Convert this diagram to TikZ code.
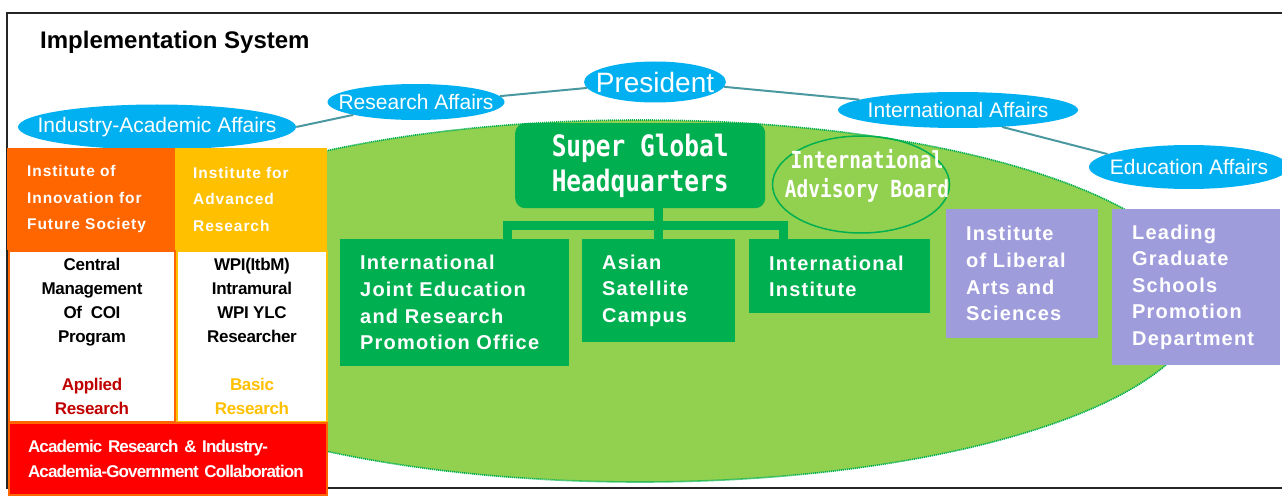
\documentclass[tikz,border=0pt]{standalone}
\usepackage{fontspec}
\setmainfont{Liberation Sans}
\newfontfamily\wideB[LetterSpace=6]{Liberation Sans}
\newfontfamily\tightA[LetterSpace=-2]{Liberation Sans}
\newfontfamily\tightB[LetterSpace=-5]{Liberation Sans}
\newfontfamily\monoB[FakeStretch=0.83]{DejaVu Sans Mono}
\usetikzlibrary{shapes.geometric}
\definecolor{cyanE}{RGB}{0,176,240}
\definecolor{dgreen}{RGB}{0,176,80}
\definecolor{lgreen}{RGB}{146,208,80}
\definecolor{orangeB}{RGB}{255,102,0}
\definecolor{goldB}{RGB}{255,192,0}
\definecolor{redB}{RGB}{255,0,0}
\definecolor{dred}{RGB}{192,0,0}
\definecolor{purpleB}{RGB}{159,156,220}
\definecolor{tealL}{RGB}{74,152,160}
\begin{document}
\begin{tikzpicture}[x=1pt,y=-1pt,
  affair/.style={ellipse, fill=cyanE, text=white, inner sep=0pt, font=\fontsize{21}{25}\selectfont},
  link/.style={draw=tealL, line width=2pt},
  gbox/.style={rectangle, anchor=north west, text=white, inner xsep=20pt, inner ysep=0pt, align=left,
     font=\wideB\bfseries\fontsize{20}{26.6}\selectfont},
  topbox/.style={rectangle, anchor=north west, text=white, inner xsep=20pt, inner ysep=0pt, align=left,
     minimum height=102pt, font=\wideB\bfseries\fontsize{15.5}{26.7}\selectfont},
  colbox/.style={rectangle, anchor=north west, fill=white, line width=2pt, inner sep=0pt, align=center,
     minimum height=171pt, font=\tightA\bfseries\fontsize{17}{24}\selectfont},
  tree/.style={draw=dgreen, line width=9pt},
]
\useasboundingbox (0,0) rectangle (1282,500);
% frame
\draw[line width=2.5pt, black!85] (1282,13) -- (7,13) -- (7,488) -- (1282,488);
\node[anchor=base west, inner sep=0pt, font=\bfseries\fontsize{24}{28}\selectfont] (title) at (40,49) {Implementation System};
% big green area
\path[fill=lgreen, draw=dgreen, line width=1.6pt, dash pattern=on 1.2pt off 0.8pt] (640,301) ellipse [x radius=562, y radius=181];
% international advisory board
\node[ellipse, draw=dgreen, line width=1.5pt, minimum width=177pt, minimum height=97pt, inner sep=0pt,
  label={[text=white, align=center, xshift=6pt, yshift=9pt, font=\monoB\bfseries\fontsize{23.5}{29}\selectfont]center:{International\\Advisory Board}}]
  (iab) at (861,184.5) {};
% affairs ellipses
\node[affair, minimum width=278pt, minimum height=45pt] (ia) at (157,127) {\makebox[0pt]{Industry-Academic Affairs}};
\node[affair, minimum width=177pt, minimum height=36pt] (ra) at (416,102) {\makebox[0pt]{Research Affairs}};
\node[affair, minimum width=142pt, minimum height=41pt, font=\fontsize{28}{32}\selectfont] (pr) at (655,82) {\makebox[0pt]{President}};
\node[affair, minimum width=240pt, minimum height=36pt] (ina) at (958,110) {\makebox[0pt]{International Affairs}};
\node[affair, minimum width=200pt, minimum height=44pt] (ea) at (1189,167) {\makebox[0pt]{Education Affairs}};
\draw[link] (ia.east) -- (ra.south west);
\draw[link] (ra.4) -- (pr.185);
\draw[link] (pr.-4) -- (ina.174);
\draw[link] (ina.-21) -- (ea.171);
% super global HQ
\node[rectangle, rounded corners=10pt, fill=dgreen, anchor=north west, minimum width=250pt, minimum height=85pt,
  inner sep=0pt, text=white, align=center, font=\monoB\bfseries\fontsize{29.5}{35}\selectfont] (sgh) at (515,123)
  {Super Global\\Headquarters};
% green boxes
\node[gbox, fill=dgreen, text width=189pt, minimum height=127pt] (ijer) at (340,239)
  {International\\Joint Education\\and Research\\Promotion Office};
\node[gbox, fill=dgreen, text width=113pt, minimum height=103pt] (asc) at (582,239)
  {Asian\\Satellite\\Campus};
\node[gbox, fill=dgreen, text width=141pt, minimum height=74pt] (ii) at (749,239)
  {International\\Institute};
\coordinate (barL) at (507.5,225.5);
\coordinate (barR) at (783,225.5);
\draw[tree] (ijer.north -| barL) -- (barL) -- (barR) -- (ii.north -| barR);
\draw[tree] (asc.north |- sgh.south) -- (asc.north);
% purple boxes
\node[gbox, fill=purpleB, text width=112pt, minimum height=129pt] (ilas) at (946,209)
  {Institute\\of Liberal\\Arts and\\Sciences};
\node[gbox, fill=purpleB, text width=128pt, minimum height=156pt] (lgs) at (1112,209)
  {Leading\\Graduate\\Schools\\Promotion\\Department};
% left block
\node[topbox, fill=orangeB, text width=128pt] (iifs) at (7,148)
  {Institute of\\Innovation for\\Future Society};
\node[topbox, fill=goldB, text width=116pt, inner xsep=18pt] (iar) at (175,148)
  {Institute for\\Advanced\\Research};
\node[colbox, draw=orangeB, minimum width=166pt] (cm) at (8,250)
  {Central\\Management\\Of\ \ COI\\Program\\[24pt]{\color{dred}Applied}\\{\color{dred}Research}};
\node[colbox, draw=goldB, minimum width=150pt] (wpi) at (176,250)
  {WPI(ItbM)\\Intramural\\WPI YLC\\Researcher\\[24pt]{\color{goldB}Basic}\\{\color{goldB}Research}};
\node[rectangle, anchor=north west, fill=redB, draw=orangeB, line width=2pt, text=white, inner xsep=19pt, inner ysep=0pt,
  text width=280pt, minimum height=72pt, align=left, font=\tightB\bfseries\fontsize{17}{25.6}\selectfont] (arc) at (8,422)
  {\mbox{Academic Research \& Industry-}\\\mbox{Academia-Government Collaboration}};
\end{tikzpicture}
\end{document}
